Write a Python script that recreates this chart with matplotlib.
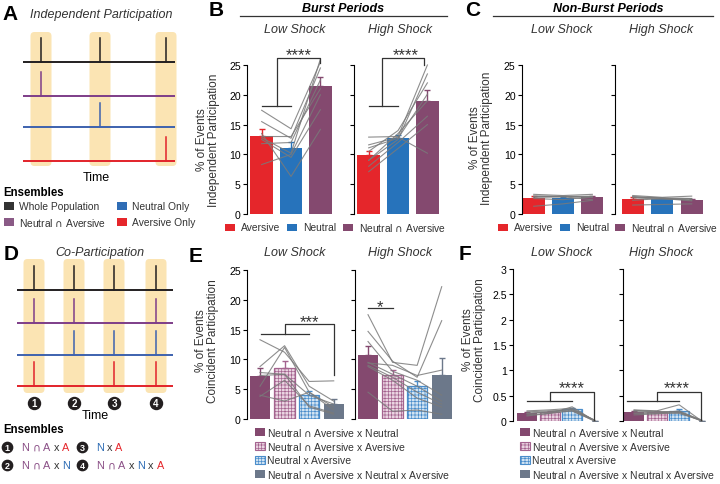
import numpy as np
import matplotlib
matplotlib.use('Agg')
import matplotlib.pyplot as plt
from matplotlib.patches import Rectangle, FancyBboxPatch

plt.rcParams['font.family'] = ['Liberation Sans', 'DejaVu Sans']
plt.rcParams['mathtext.fontset'] = 'dejavusans'
plt.rcParams['hatch.linewidth'] = 0.5

W, H = 720, 485

# colours
RED = '#E5262B'
BLUE = '#2773BB'
PURPLE = '#84496F'
SLATE = '#6C788A'
PINK_FACE = '#EBD5E2'
PINK_EDGE = '#A4648F'
SKY_FACE = '#D2E4F3'
SKY_EDGE = '#4A8DCB'
GREY_LINE = '#7A7A7A'
SHADE = '#FBE4B3'

# ---- schematics (A, D): which ensemble fires in each highlighted event
ens_names = ['Whole Population', 'Neutral ∩ Aversive', 'Neutral Only', 'Aversive Only']
ens_line_colors = ['#231F20', '#7E3D88', '#3D62AE', '#E2232A']
indep_active = [[1, 1, 1], [1, 0, 0], [0, 1, 0], [0, 0, 1]]
co_active = [[1, 1, 1, 1], [1, 1, 0, 1], [0, 1, 1, 1], [1, 0, 1, 1]]

# ---- B / C: independent participation (% of events)
indep_groups = ['Aversive', 'Neutral', 'Neutral ∩ Aversive']
burst_low_mean = [13.1, 11.0, 21.4]
burst_low_err = [1.2, 1.1, 1.6]
burst_low_mice = [[17.4, 15.5, 13.5, 12.5, 11.8, 13.0, 8.3, 12.8],
                  [14.3, 12.7, 6.3, 9.5, 12.0, 13.0, 10.0, 10.2],
                  [25.5, 24.5, 14.2, 17.5, 22.5, 21.0, 20.0, 26.0]]
burst_high_mean = [9.9, 12.7, 18.9]
burst_high_err = [0.7, 0.6, 1.9]
burst_high_mice = [[11.6, 12.9, 7.1, 8.0, 9.0, 10.5, 9.0, 11.1],
                   [12.9, 13.0, 11.0, 12.0, 12.5, 14.0, 13.5, 12.7],
                   [10.2, 25.0, 15.0, 16.4, 23.5, 22.0, 19.0, 20.1]]

nonburst_low_mean = [2.7, 2.7, 2.8]
nonburst_low_err = [0.25, 0.2, 0.15]
nonburst_low_mice = [[3.3, 3.0, 2.6, 1.3, 2.8, 3.0, 2.9],
                     [3.1, 2.9, 2.4, 1.7, 2.9, 3.0, 2.9],
                     [3.3, 3.0, 2.9, 2.3, 2.8, 2.9, 2.4]]
nonburst_high_mean = [2.6, 2.5, 2.4]
nonburst_high_err = [0.2, 0.15, 0.15]
nonburst_high_mice = [[3.1, 2.9, 2.3, 1.5, 2.7, 2.8, 2.9],
                      [2.8, 2.6, 2.6, 1.6, 2.5, 2.7, 2.7],
                      [3.0, 2.6, 2.2, 1.7, 2.4, 2.6, 2.3]]

# ---- E / F: coincident participation (% of events)
co_groups = ['Neutral ∩ Aversive x Neutral', 'Neutral ∩ Aversive x Aversive',
             'Neutral x Aversive', 'Neutral ∩ Aversive x Neutral x Aversive']
burst_co_low_mean = [7.2, 8.6, 4.1, 2.6]
burst_co_low_err = [1.3, 1.2, 0.6, 0.8]
burst_co_low_mice = [[13.3, 8.8, 5.5, 7.8, 4.0, 3.8, 7.3],
                     [11.2, 12.3, 12.0, 7.5, 3.0, 6.5, 7.5],
                     [6.3, 5.5, 4.5, 4.0, 4.5, 2.2, 2.0],
                     [6.4, 3.0, 2.0, 2.5, 1.5, 1.0, 0.8]]
burst_co_high_mean = [10.8, 7.3, 5.6, 7.4]
burst_co_high_err = [1.5, 0.9, 0.8, 2.8]
burst_co_high_mice = [[17.5, 14.7, 13.0, 9.5, 9.0, 8.8, 4.5, 9.4],
                      [9.5, 9.7, 8.0, 7.5, 7.0, 6.5, 1.3, 9.0],
                      [9.0, 7.0, 6.5, 5.5, 4.5, 3.5, 1.5, 7.3],
                      [22.2, 16.5, 4.0, 3.0, 2.5, 2.0, 0.8, 8.2]]

nonburst_co_low_mean = [0.15, 0.18, 0.23, 0.005]
nonburst_co_low_err = [0.03, 0.02, 0.03, 0.003]
nonburst_co_low_mice = [[0.10, 0.20, 0.15, 0.18, 0.12, 0.15],
                        [0.15, 0.22, 0.18, 0.20, 0.15, 0.18],
                        [0.28, 0.25, 0.20, 0.22, 0.20, 0.23],
                        [0.0, 0.01, 0.0, 0.02, 0.0, 0.01]]
nonburst_co_high_mean = [0.18, 0.17, 0.20, 0.005]
nonburst_co_high_err = [0.02, 0.02, 0.03, 0.003]
nonburst_co_high_mice = [[0.22, 0.15, 0.20, 0.18, 0.12, 0.21],
                         [0.20, 0.15, 0.18, 0.16, 0.14, 0.19],
                         [0.32, 0.20, 0.18, 0.15, 0.17, 0.18],
                         [0.0, 0.01, 0.0, 0.01, 0.0, 0.02]]

indep_styles = [(RED, RED, None), (BLUE, BLUE, None), (PURPLE, PURPLE, None)]
co_styles = [(PURPLE, PURPLE, None), (PINK_FACE, PINK_EDGE, '+++++'),
             (SKY_FACE, SKY_EDGE, '+++++'), (SLATE, SLATE, None)]

fig = plt.figure(figsize=(W / 100, H / 100), dpi=100)


def cap(s):
    # the intersection sign drawn as in the original (tall arch)
    return s.replace('∩', r'$\cap$')


def px_box(x0, y0, x1, y1):
    return [x0 / W, 1 - y1 / H, (x1 - x0) / W, (y1 - y0) / H]


def bar_panel(box, xlim, ylim, yticks, means, errs, mice, styles, width,
              labels=True, ticklabels=None):
    ax = fig.add_axes(px_box(*box))
    ax.set_facecolor('none')
    x = np.arange(len(means))
    for i in range(len(means)):
        face, edge, hatch = styles[i]
        ax.bar(x[i], means[i], width, color=face, edgecolor=edge, hatch=hatch,
               linewidth=0.9 if hatch else 0, zorder=1)
        ax.errorbar(x[i], means[i], yerr=[[0], [errs[i]]], fmt='none', ecolor=edge,
                    elinewidth=1, capsize=2.5, capthick=1, zorder=2)
    arr = np.array(mice)
    for j in range(arr.shape[1]):
        ax.plot(x, arr[:, j], color=GREY_LINE, lw=0.8, alpha=0.85, zorder=3, clip_on=False)
    ax.set_xlim(*xlim)
    ax.set_ylim(*ylim)
    for s in ['top', 'right', 'bottom']:
        ax.spines[s].set_visible(False)
    ax.spines['left'].set_linewidth(0.8)
    ax.set_xticks([])
    ax.set_yticks(yticks)
    if ticklabels:
        ax.set_yticklabels(ticklabels)
    ax.tick_params(axis='y', length=3, width=0.8, pad=1.5, labelsize=7.6, labelleft=labels)
    return ax


def bracket(ax, x0, x1, y_low, xv, y_top, x_end, y_end, stars, sx, sy):
    kw = dict(color='#333333', lw=0.9, clip_on=False, zorder=5)
    ax.plot([x0, x1], [y_low, y_low], **kw)
    ax.plot([xv, xv, x_end, x_end], [y_low, y_top, y_top, y_end], **kw)
    ax.text(sx, sy, stars, ha='center', va='center', fontsize=12, color='#333333')


# ---- B
axB1 = bar_panel((247, 66, 338, 215), (-0.5, 2.6), (0, 25), [0, 5, 10, 15, 20, 25],
                 burst_low_mean, burst_low_err, burst_low_mice, indep_styles, 0.78)
axB2 = bar_panel((354, 66, 445, 215), (-0.5, 2.6), (0, 25), [0, 5, 10, 15, 20, 25],
                 burst_high_mean, burst_high_err, burst_high_mice, indep_styles, 0.78, labels=False)
bracket(axB1, 0.0, 1.0, 18.2, 0.52, 26.2, 2.0, 25.3, '****', 1.25, 26.7)
bracket(axB2, 0.0, 1.0, 18.2, 0.45, 26.2, 1.9, 25.0, '****', 1.25, 26.7)

# ---- C
axC1 = bar_panel((522, 66, 607, 215), (-0.4, 2.5), (0, 25), [0, 5, 10, 15, 20, 25],
                 nonburst_low_mean, nonburst_low_err, nonburst_low_mice, indep_styles, 0.75)
axC2 = bar_panel((615, 66, 705, 215), (-0.6, 2.45), (0, 25), [0, 5, 10, 15, 20, 25],
                 nonburst_high_mean, nonburst_high_err, nonburst_high_mice, indep_styles, 0.75,
                 labels=False)

# ---- E
axE1 = bar_panel((247, 271, 346, 420), (-0.53, 3.5), (0, 25), [0, 5, 10, 15, 20, 25],
                 burst_co_low_mean, burst_co_low_err, burst_co_low_mice, co_styles, 0.83)
axE2 = bar_panel((355, 271, 454, 420), (-0.53, 3.5), (0, 25), [0, 5, 10, 15, 20, 25],
                 burst_co_high_mean, burst_co_high_err, burst_co_high_mice, co_styles, 0.83,
                 labels=False)
bracket(axE1, 0.05, 2.0, 14.3, 1.0, 15.9, 3.0, 7.3, '***', 2.0, 16.3)
axE2.plot([0, 1], [18.6, 18.6], color='#333333', lw=0.9, clip_on=False, zorder=5)
axE2.text(0.5, 18.9, '*', ha='center', va='center', fontsize=12, color='#333333')

# ---- F
f_ticks = [0, 0.5, 1, 1.5, 2, 2.5, 3]
f_labels = ['0', '0.5', '1', '1.5', '2', '2.5', '3']
axF1 = bar_panel((513, 270, 606, 422), (-0.62, 3.5), (0, 3), f_ticks,
                 nonburst_co_low_mean, nonburst_co_low_err, nonburst_co_low_mice, co_styles, 0.88,
                 ticklabels=f_labels)
axF2 = bar_panel((623, 270, 713, 422), (-0.49, 3.5), (0, 3), f_ticks,
                 nonburst_co_high_mean, nonburst_co_high_err, nonburst_co_high_mice, co_styles, 0.88,
                 labels=False)
bracket(axF1, 0.0, 2.0, 0.40, 1.0, 0.58, 2.96, 0.02, '****', 2.0, 0.65)
bracket(axF2, -0.32, 2.0, 0.40, 1.0, 0.58, 2.96, 0.02, '****', 1.9, 0.65)

# ---- overlay for schematics, titles, legends
ov = fig.add_axes([0, 0, 1, 1])
ov.set_xlim(0, W)
ov.set_ylim(H, 0)
ov.axis('off')


def raster(slot_x, rows_y, active, x0, x1, box_top, box_bot, box_w, spike_h):
    for sx in slot_x:
        ov.add_patch(FancyBboxPatch((sx - box_w / 2, box_top), box_w, box_bot - box_top,
                                    boxstyle='round,pad=0,rounding_size=4',
                                    facecolor=SHADE, edgecolor='none', zorder=0))
    for ry, act, c in zip(rows_y, active, ens_line_colors):
        ov.plot([x0, x1], [ry, ry], color=c, lw=1.4, solid_capstyle='butt', zorder=2)
        for sx, a in zip(slot_x, act):
            if a:
                ov.plot([sx, sx], [ry, ry - spike_h], color=c, lw=1.1, zorder=2)


# A
ov.text(10, 15, 'A', fontsize=15, fontweight='bold', ha='center', va='center')
ov.text(30, 15, 'Independent Participation', fontsize=9, style='italic', va='center', color='#333333')
raster([41, 100, 166], [63, 97, 128, 162], indep_active, 23, 175, 33, 167, 21, 24)
ov.text(96, 178, 'Time', fontsize=9, ha='center', va='center')
ov.text(3, 193, 'Ensembles', fontsize=8.3, fontweight='bold', va='center')
leg_sq = ['#333333', '#8A5A86', '#2F6DB5', RED]
for (lx, ly), name, c in zip([(4, 207), (4, 223), (117, 207), (117, 223)],
                             [ens_names[0], ens_names[1], ens_names[2], ens_names[3]],
                             [leg_sq[0], leg_sq[1], leg_sq[2], leg_sq[3]]):
    ov.add_patch(Rectangle((lx, ly - 4), 10, 8, facecolor=c, edgecolor='none'))
    ov.text(lx + 15, ly, cap(name), fontsize=7.4, va='center', color='#333333')

# D
ov.text(11, 255, 'D', fontsize=15, fontweight='bold', ha='center', va='center')
ov.text(100, 253, 'Co-Participation', fontsize=9, style='italic', ha='center', va='center',
        color='#333333')
d_slots = [34, 74, 114, 156]
raster(d_slots, [291, 324, 356, 387], co_active, 17, 173, 260, 394, 21, 24)
for i, sx in enumerate(d_slots):
    ov.scatter([sx], [404], s=75, color='#231F20', zorder=3)
    ov.text(sx, 404.5, str(i + 1), color='white', fontsize=7, fontweight='bold',
            ha='center', va='center', zorder=4)
ov.text(95, 416, 'Time', fontsize=9, ha='center', va='center')
ov.text(3, 430, 'Ensembles', fontsize=8.3, fontweight='bold', va='center')

renderer = fig.canvas.get_renderer()
NP, NB, NR, NX = '#8A4F86', '#2F6DB5', RED, '#333333'
d_legend = [
    (1, 7, 448, [('N', NP), ('∩', NP), ('A', NP), ('x', NX), ('A', NR)]),
    (3, 82, 448, [('N', NB), ('x', NX), ('A', NR)]),
    (2, 7, 466, [('N', NP), ('∩', NP), ('A', NP), ('x', NX), ('N', NB)]),
    (4, 82, 466, [('N', NP), ('∩', NP), ('A', NP), ('x', NX), ('N', NB), ('x', NX), ('A', NR)]),
]
for num, cx, cy, pieces in d_legend:
    ov.scatter([cx], [cy], s=55, color='#231F20', zorder=3)
    ov.text(cx, cy + 0.5, str(num), color='white', fontsize=6.5, fontweight='bold',
            ha='center', va='center', zorder=4)
    tx = cx + 14
    for s, c in pieces:
        t = ov.text(tx, cy, cap(s), color=c, fontsize=7.8, va='center')
        tx += t.get_window_extent(renderer=renderer).width + 3

# panel letters, headers, titles
ov.text(216, 11, 'B', fontsize=15, fontweight='bold', ha='center', va='center')
ov.text(473, 11, 'C', fontsize=15, fontweight='bold', ha='center', va='center')
ov.text(196, 256, 'E', fontsize=15, fontweight='bold', ha='center', va='center')
ov.text(465, 254, 'F', fontsize=15, fontweight='bold', ha='center', va='center')

ov.text(343, 9, 'Burst Periods', fontsize=9, fontweight='bold', style='italic',
        ha='center', va='center')
ov.plot([240, 447], [17, 17], color='#333333', lw=0.9)
ov.text(608, 9, 'Non-Burst Periods', fontsize=9, fontweight='bold', style='italic',
        ha='center', va='center')
ov.plot([493, 713], [17, 17], color='#333333', lw=0.9)

for cx, cy, txt in [(295, 30, 'Low Shock'), (400, 30, 'High Shock'),
                    (562, 30, 'Low Shock'), (661, 30, 'High Shock'),
                    (295, 253, 'Low Shock'), (400, 253, 'High Shock'),
                    (562, 253, 'Low Shock'), (661, 253, 'High Shock')]:
    ov.text(cx, cy, txt, fontsize=9, style='italic', ha='center', va='center', color='#333333')

for cx, cy, txt in [(208, 140, '% of Events\nIndependent Participation'),
                    (481, 138, '% of Events\nIndependent Participation'),
                    (207, 341, '% of Events\nCoincident Participation'),
                    (474, 340, '% of Events\nCoincident Participation')]:
    ov.text(cx, cy, txt, fontsize=8.5, rotation=90, ha='center', va='center',
            linespacing=1.05, color='#333333')


def legend_square(x, y, w, h, style):
    face, edge, hatch = style
    ov.add_patch(Rectangle((x, y - h / 2), w, h, facecolor=face, edgecolor=edge,
                           hatch=hatch, lw=0.8 if hatch else 0))


# B / C legends
for x_sq in [(225, 287, 343), (498, 560, 615)]:
    for xs, style, name in zip(x_sq, indep_styles, indep_groups):
        legend_square(xs, 228, 10, 7, style)
        ov.text(xs + 16, 228, cap(name), fontsize=7.4, va='center', color='#333333')

# E / F legends
for xs in [255, 520]:
    for yy, style, name in zip([433, 447, 461, 475], co_styles, co_groups):
        legend_square(xs, yy, 10, 8, style)
        ov.text(xs + 12, yy, cap(name), fontsize=7.5, va='center', color='#333333')

fig.savefig('out.png', dpi=100)
